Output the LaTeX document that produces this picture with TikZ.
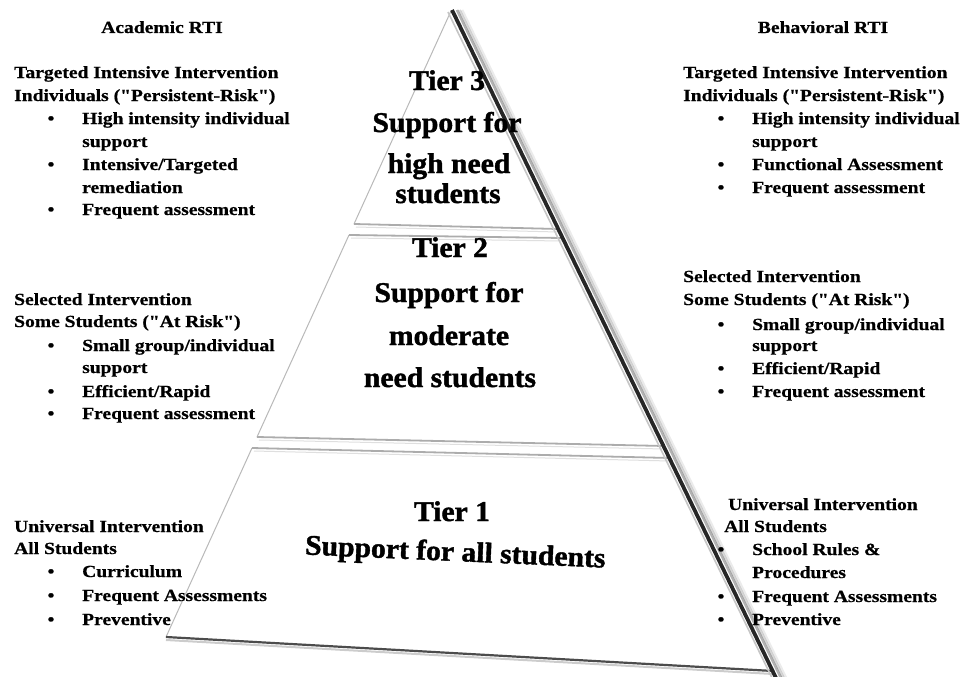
\documentclass[tikz,border=0pt]{standalone}
\usepackage{fontspec}
\setmainfont{Liberation Serif}
\newfontfamily\sidefont{Liberation Serif}[FakeStretch=1.15, BoldFeatures={FakeBold=0.7}]
\newfontfamily\tierfont{Liberation Serif}[FakeStretch=1.04, BoldFeatures={FakeBold=1.4}]
\usetikzlibrary{calc}
\begin{document}
\begin{tikzpicture}[x=1pt,y=-1pt,
  side/.style={font=\sidefont\fontsize{17}{20}\selectfont\bfseries, anchor=base west, inner sep=0pt},
  head/.style={font=\sidefont\fontsize{17}{20}\selectfont\bfseries, anchor=base, inner sep=0pt},
  bul/.style={font=\sidefont\fontsize{17}{20}\selectfont\bfseries, anchor=base, inner sep=0pt},
  tier/.style={font=\tierfont\fontsize{28.5}{30}\selectfont\bfseries, anchor=base, inner sep=0pt},
  ledge/.style={draw=gray!55, line width=1pt},
  sepdark/.style={draw=gray!65, line width=1.8pt},
  seplight/.style={draw=gray!25, line width=1pt},
  redge/.style={draw=black!85, line width=3.8pt},
  rshadow/.style={draw=black, line width=2.6pt},
]
\useasboundingbox (0,0) rectangle (964,677);

% ---------- pyramid geometry ----------
\coordinate (apex) at (451,11);
\coordinate (t3l)  at (354,224);
\coordinate (t3r)  at (558,229);
\coordinate (t2tl) at (349,235);
\coordinate (t2tr) at (562,238);
\coordinate (t2bl) at (257,437);
\coordinate (t2br) at (664,446);
\coordinate (t1tl) at (252,448);
\coordinate (t1tr) at (670,458);
\coordinate (t1bl) at (166,637);
\coordinate (t1br) at (773,671);
\coordinate (rtop) at (452,10);
\coordinate (rbot) at (777,680);

\fill[white] (apex) -- (t3r) -- (t3l) -- cycle;
\fill[white] (t2tl) -- (t2tr) -- (t2br) -- (t2bl) -- cycle;
\fill[white] (t1tl) -- (t1tr) -- (t1br) -- (t1bl) -- cycle;

% left edges
\draw[ledge] (apex) -- (t3l);
\draw[ledge] (t2tl) -- (t2bl);
\draw[ledge] (t1tl) -- (t1bl);

% separators (bevelled)
\draw[sepdark] (t3l) -- (t3r);
\draw[seplight] ($(t3l)+(2,3)$) -- ($(t3r)+(0,3)$);
\draw[sepdark] (t2tl) -- (t2tr);
\draw[seplight] ($(t2tl)+(2,3)$) -- ($(t2tr)+(0,3)$);
\draw[sepdark] (t2bl) -- (t2br);
\draw[seplight] ($(t2bl)+(2,3)$) -- ($(t2br)+(0,3)$);
\draw[sepdark] (t1tl) -- (t1tr);
\draw[seplight] ($(t1tl)+(2,3)$) -- ($(t1tr)+(0,3)$);
\draw[draw=gray!40, line width=2pt] ($(t1bl)+(0,3)$) -- ($(t1br)+(0,3)$);
\draw[draw=black!70, line width=2.2pt] (t1bl) -- (t1br);

% right edge with shadow
\draw[rshadow, opacity=0.08] ($(rtop)+(10,0)$) -- ($(rbot)+(10,0)$);
\draw[rshadow, opacity=0.16] ($(rtop)+(7.5,0)$) -- ($(rbot)+(7.5,0)$);
\draw[rshadow, opacity=0.30] ($(rtop)+(5,0)$) -- ($(rbot)+(5,0)$);
\draw[draw=gray!45, line width=1.6pt] ($(rtop)+(-4,2)$) -- ($(rbot)+(-4,0)$);
\draw[redge] (rtop) -- (rbot);

% ---------- centre labels ----------
\node[tier] (t3a) at (447,90)  {Tier 3};
\node[tier] (t3b) at (447,132) {Support for};
\node[tier] (t3c) at (449,173) {high need};
\node[tier] (t3d) at (448,203) {students};

\node[tier] (t2a) at (450,257) {Tier 2};
\node[tier] (t2b) at (449,302) {Support for};
\node[tier] (t2c) at (449,345) {moderate};
\node[tier] (t2d) at (450,387) {need students};

\node[tier] (t1a) at (452,521) {Tier 1};
\node[tier, rotate=-2.5] (t1b) at (455,561) {Support for all students};

% ---------- left column: Academic RTI ----------
\node[head] (lh) at (162,33) {Academic RTI};

\node[side] (la1) at (14,78)  {Targeted Intensive Intervention};
\node[side] (la2) at (14,101) {Individuals ("Persistent-Risk")};
\node[bul]  (lab1) at (51,124) {\textbullet};
\node[side] (la3) at (82,124) {High intensity individual};
\node[side] (la4) at (82,147) {support};
\node[bul]  (lab2) at (51,170) {\textbullet};
\node[side] (la5) at (82,170) {Intensive/Targeted};
\node[side] (la6) at (82,193) {remediation};
\node[bul]  (lab3) at (51,215) {\textbullet};
\node[side] (la7) at (82,215) {Frequent assessment};

\node[side] (lb1) at (14,305) {Selected Intervention};
\node[side] (lb2) at (14,327) {Some Students ("At Risk")};
\node[bul]  (lbb1) at (51,351) {\textbullet};
\node[side] (lb3) at (82,351) {Small group/individual};
\node[side] (lb4) at (82,373) {support};
\node[bul]  (lbb2) at (51,397) {\textbullet};
\node[side] (lb5) at (82,397) {Efficient/Rapid};
\node[bul]  (lbb3) at (51,419) {\textbullet};
\node[side] (lb6) at (82,419) {Frequent assessment};

\node[side] (lc1) at (14,532) {Universal Intervention};
\node[side] (lc2) at (14,554) {All Students};
\node[bul]  (lcb1) at (51,577) {\textbullet};
\node[side] (lc3) at (82,577) {Curriculum};
\node[bul]  (lcb2) at (51,601) {\textbullet};
\node[side] (lc4) at (82,601) {Frequent Assessments};
\node[bul]  (lcb3) at (51,625) {\textbullet};
\node[side] (lc5) at (82,625) {Preventive};

% ---------- right column: Behavioral RTI ----------
\node[head] (rh) at (823,33) {Behavioral RTI};

\node[side] (ra1) at (683,78)  {Targeted Intensive Intervention};
\node[side] (ra2) at (683,101) {Individuals ("Persistent-Risk")};
\node[bul]  (rab1) at (721,124) {\textbullet};
\node[side] (ra3) at (752,124) {High intensity individual};
\node[side] (ra4) at (752,147) {support};
\node[bul]  (rab2) at (721,170) {\textbullet};
\node[side] (ra5) at (752,170) {Functional Assessment};
\node[bul]  (rab3) at (721,193) {\textbullet};
\node[side] (ra6) at (752,193) {Frequent assessment};

\node[side] (rb1) at (683,282) {Selected Intervention};
\node[side] (rb2) at (683,305) {Some Students ("At Risk")};
\node[bul]  (rbb1) at (721,330) {\textbullet};
\node[side] (rb3) at (752,330) {Small group/individual};
\node[side] (rb4) at (752,351) {support};
\node[bul]  (rbb2) at (721,374) {\textbullet};
\node[side] (rb5) at (752,374) {Efficient/Rapid};
\node[bul]  (rbb3) at (721,397) {\textbullet};
\node[side] (rb6) at (752,397) {Frequent assessment};

\node[side] (rc1) at (728,510) {Universal Intervention};
\node[side] (rc2) at (724,532) {All Students};
\node[bul]  (rcb1) at (721,555) {\textbullet};
\node[side] (rc3) at (752,555) {School Rules \&};
\node[side] (rc4) at (752,578) {Procedures};
\node[bul]  (rcb2) at (721,602) {\textbullet};
\node[side] (rc5) at (752,602) {Frequent Assessments};
\node[bul]  (rcb3) at (721,625) {\textbullet};
\node[side] (rc6) at (752,625) {Preventive};
\end{tikzpicture}
\end{document}
